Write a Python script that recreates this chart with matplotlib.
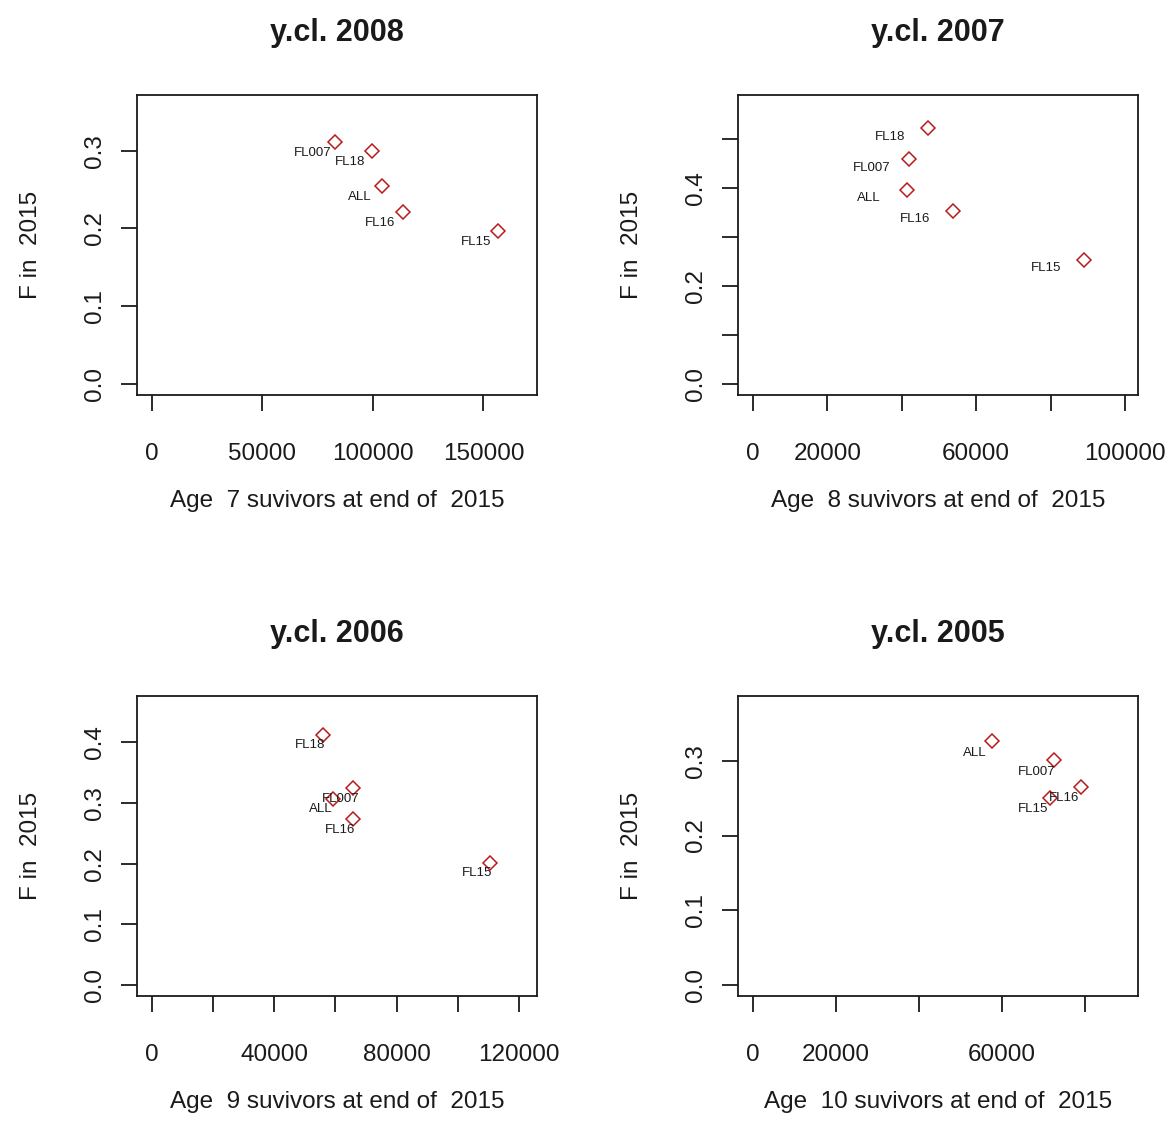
import matplotlib
matplotlib.use("Agg")
import matplotlib.pyplot as plt

# ---------------- data ----------------
titles = ["y.cl. 2008", "y.cl. 2007", "y.cl. 2006", "y.cl. 2005"]
ages = [7, 8, 9, 10]
year = 2015

labels_p1 = ["ALL", "FL007", "FL15", "FL16", "FL18"]
x_p1 = [104260, 83040, 156770, 113580, 99740]
y_p1 = [0.2548, 0.3117, 0.1967, 0.2213, 0.3000]

labels_p2 = ["ALL", "FL007", "FL15", "FL16", "FL18"]
x_p2 = [41475, 42010, 88930, 53720, 47105]
y_p2 = [0.3969, 0.4597, 0.2541, 0.3545, 0.5225]

labels_p3 = ["ALL", "FL007", "FL15", "FL16", "FL18"]
x_p3 = [59340, 65870, 110530, 65870, 56070]
y_p3 = [0.3072, 0.3243, 0.2013, 0.2730, 0.4126]

labels_p4 = ["ALL", "FL007", "FL15", "FL16"]
x_p4 = [57520, 72370, 71410, 78940]
y_p4 = [0.3260, 0.3010, 0.2508, 0.2656]

# axis upper limits (R style: 0..max, expanded by 4 %)
xmax_list = [167500, 99500, 121000, 89100]
ymax_list = [0.3575, 0.568, 0.4582, 0.372]

xticks_p1 = [0, 50000, 100000, 150000]
xticklabels_p1 = ["0", "50000", "100000", "150000"]
xticks_p2 = [0, 20000, 40000, 60000, 80000, 100000]
xticklabels_p2 = ["0", "20000", "", "60000", "", "100000"]
xticks_p3 = [0, 20000, 40000, 60000, 80000, 100000, 120000]
xticklabels_p3 = ["0", "", "40000", "", "80000", "", "120000"]
xticks_p4 = [0, 20000, 40000, 60000, 80000]
xticklabels_p4 = ["0", "20000", "", "60000", ""]

yticks_p1 = [0.0, 0.1, 0.2, 0.3]
yticklabels_p1 = ["0.0", "0.1", "0.2", "0.3"]
yticks_p2 = [0.0, 0.1, 0.2, 0.3, 0.4, 0.5]
yticklabels_p2 = ["0.0", "", "0.2", "", "0.4", ""]
yticks_p3 = [0.0, 0.1, 0.2, 0.3, 0.4]
yticklabels_p3 = ["0.0", "0.1", "0.2", "0.3", "0.4"]
yticks_p4 = [0.0, 0.1, 0.2, 0.3]
yticklabels_p4 = ["0.0", "0.1", "0.2", "0.3"]

panels = [
    (labels_p1, x_p1, y_p1, xticks_p1, xticklabels_p1, yticks_p1, yticklabels_p1),
    (labels_p2, x_p2, y_p2, xticks_p2, xticklabels_p2, yticks_p2, yticklabels_p2),
    (labels_p3, x_p3, y_p3, xticks_p3, xticklabels_p3, yticks_p3, yticklabels_p3),
    (labels_p4, x_p4, y_p4, xticks_p4, xticklabels_p4, yticks_p4, yticklabels_p4),
]

# ---------------- layout / style ----------------
W, H = 1172, 1129
DPI = 100
PT = 72.0 / DPI  # points per pixel

plt.rcParams["font.family"] = ["Liberation Sans", "DejaVu Sans"]
TXT = "#1a1a1a"
MARK = "#bb1a1a"

fig = plt.figure(figsize=(W / DPI, H / DPI), dpi=DPI)
fig.patch.set_facecolor("white")

# box pixel positions (left, top) of each panel
box_px = [(137, 95), (738, 95), (137, 696), (738, 696)]
box_w, box_h = 400, 300
# label offsets (pixels, right / down) for point labels
lab_off = [(-22.5, 11), (-38, 8.5), (-13, 10.3), (-17, 11.5)]

for i, (labs, xs, ys, xt, xtl, yt, ytl) in enumerate(panels):
    lx, ty = box_px[i]
    ax = fig.add_axes([lx / W, (H - ty - box_h) / H, box_w / W, box_h / H])
    xm, ym = xmax_list[i], ymax_list[i]
    ax.set_xlim(-0.04 * xm, 1.04 * xm)
    ax.set_ylim(-0.04 * ym, 1.04 * ym)

    ax.plot(xs, ys, linestyle="none", marker="D", markersize=6.8,
            markerfacecolor="none", markeredgecolor=MARK, markeredgewidth=1.1)
    dx, dy = lab_off[i]
    for lab, x, y in zip(labs, xs, ys):
        ax.annotate(lab, (x, y), xytext=(dx * PT, -dy * PT),
                    textcoords="offset points", ha="center", va="center",
                    fontsize=9.5, color=TXT)

    ax.set_xticks(xt)
    ax.set_xticklabels(xtl)
    ax.set_yticks(yt)
    ax.set_yticklabels(ytl, rotation=90, va="center")
    ax.tick_params(axis="both", direction="out", length=16 * PT, width=1.3,
                   labelsize=17.5, colors=TXT)
    ax.tick_params(axis="x", pad=32 * PT)
    ax.tick_params(axis="y", pad=15 * PT)
    for s in ax.spines.values():
        s.set_linewidth(1.3)
        s.set_color(TXT)

    ax.text(0.5, 1 + 62 / box_h, titles[i], transform=ax.transAxes,
            ha="center", va="center", fontsize=22, fontweight="bold", color=TXT)
    ax.text(0.5, -106 / box_h, "Age  %d suvivors at end of  %d" % (ages[i], year),
            transform=ax.transAxes, ha="center", va="center",
            fontsize=17.5, color=TXT)
    ax.text(-106 / box_w, 0.5, "F in  %d" % year, transform=ax.transAxes,
            ha="center", va="center", rotation=90, fontsize=17.5, color=TXT)

fig.savefig("out.png", dpi=DPI, facecolor="white")
